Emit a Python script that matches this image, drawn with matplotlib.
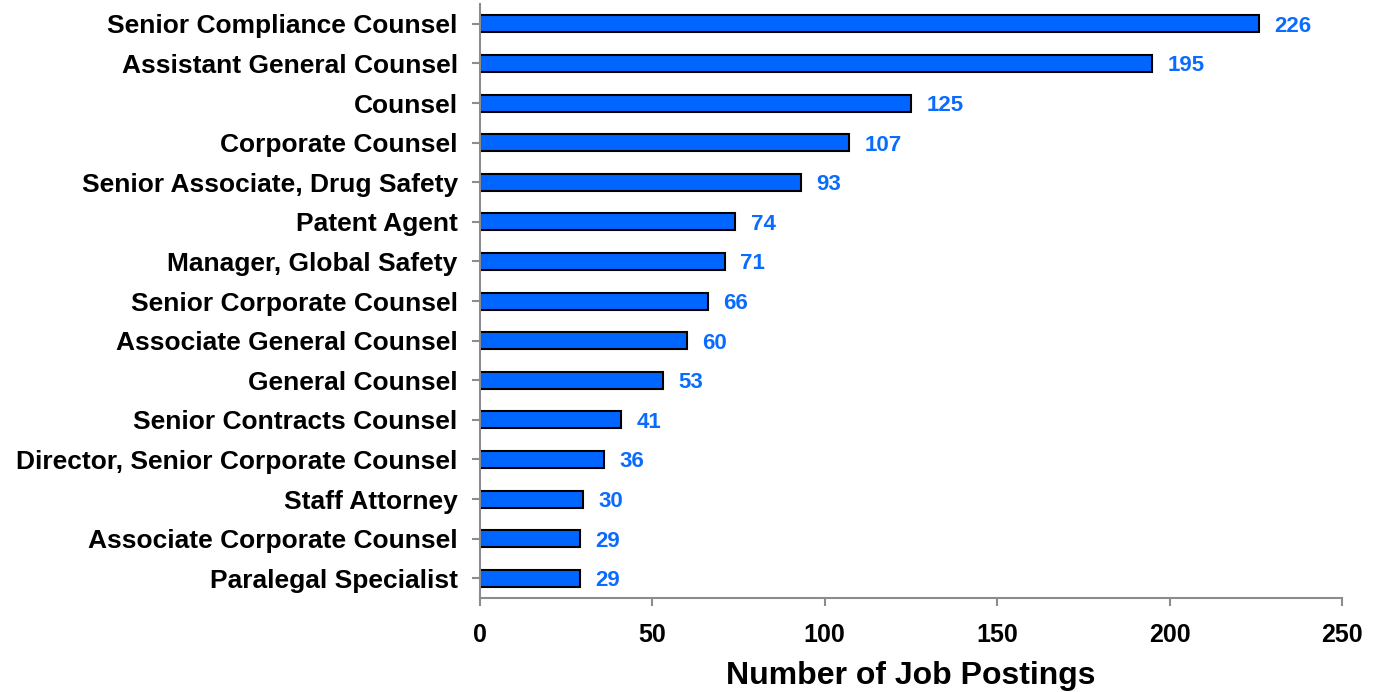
import matplotlib.pyplot as plt

titles = [
    "Senior Compliance Counsel",
    "Assistant General Counsel",
    "Counsel",
    "Corporate Counsel",
    "Senior Associate, Drug Safety",
    "Patent Agent",
    "Manager, Global Safety",
    "Senior Corporate Counsel",
    "Associate General Counsel",
    "General Counsel",
    "Senior Contracts Counsel",
    "Director, Senior Corporate Counsel",
    "Staff Attorney",
    "Associate Corporate Counsel",
    "Paralegal Specialist",
]
postings = [226, 195, 125, 107, 93, 74, 71, 66, 60, 53, 41, 36, 30, 29, 29]
x_ticks = [0, 50, 100, 150, 200, 250]

plt.rcParams['font.family'] = ['Liberation Sans', 'DejaVu Sans']

fig = plt.figure(figsize=(13.82, 6.92), dpi=100)
ax = fig.add_axes([0.3473, 0.1358, 0.6237, 0.8584])

pos = list(range(len(titles)))
ax.barh(pos, postings, height=0.43, color='#0066ff', edgecolor='black', linewidth=1.5)

# value labels to the right of each bar
for p, v in zip(pos, postings):
    ax.text(v + 4.5, p, str(v), color='#0a6cff', fontsize=16, fontweight='bold',
            va='center_baseline', ha='left')

ax.set_ylim(len(titles) - 0.5, -0.5)
ax.set_xlim(0, 250)
ax.set_yticks(pos)
ax.set_yticklabels(titles, fontsize=19, fontweight='bold')
ax.set_xticks(x_ticks)
ax.set_xticklabels([str(t) for t in x_ticks], fontsize=18, fontweight='bold')
ax.set_xlabel('Number of Job Postings', fontsize=23, fontweight='bold', labelpad=10)

for side in ['top', 'right']:
    ax.spines[side].set_visible(False)
for side in ['left', 'bottom']:
    ax.spines[side].set_color('#8c8c8c')
    ax.spines[side].set_linewidth(1.5)
ax.tick_params(axis='both', color='#8c8c8c', width=1.5, length=6)
ax.tick_params(axis='x', pad=12)
ax.tick_params(axis='y', pad=10)

fig.savefig('out.png', dpi=100)
